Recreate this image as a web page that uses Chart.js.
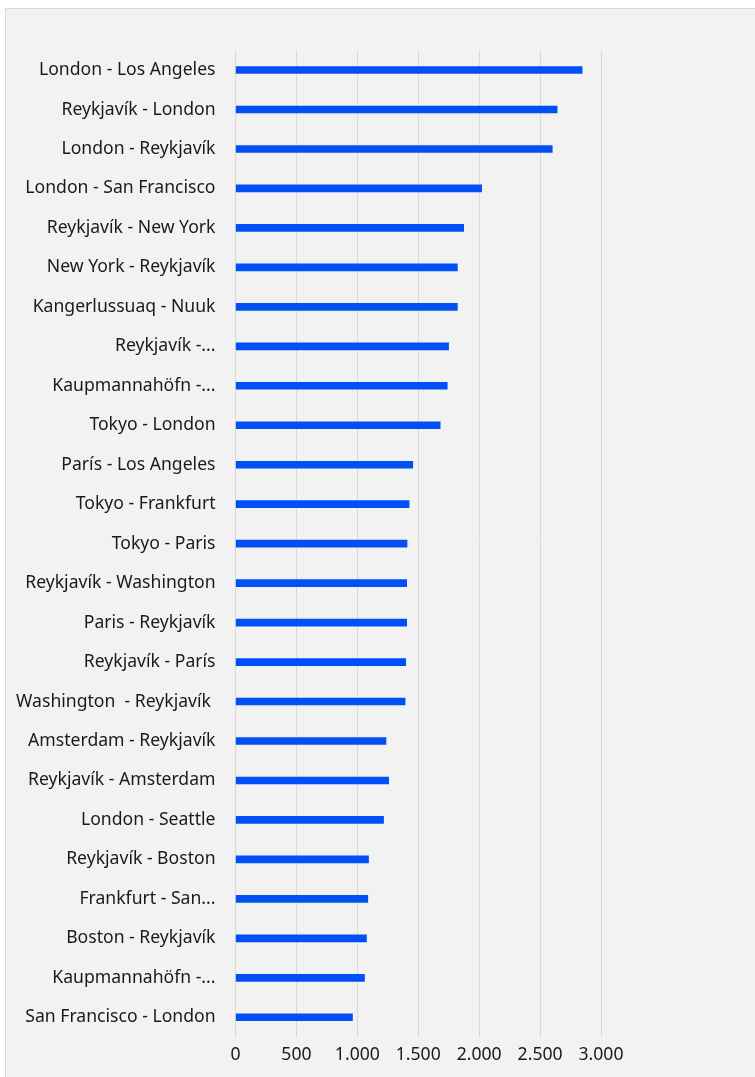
<!DOCTYPE html>
<html><head><meta charset="utf-8">
<script src="https://cdn.jsdelivr.net/npm/chart.js@4.4.1/dist/chart.umd.min.js"></script>
<style>
html,body{margin:0;padding:0;background:#fff;width:755px;height:1077px;overflow:hidden}
#box{position:absolute;left:5px;top:8px;width:760px;height:1080px;background:#f2f2f2;border:1px solid #d9d9d9;}
#c{display:block}
</style></head><body>
<div id="box"><canvas id="c" width="760" height="1080"></canvas></div>
<script>
const routes = [
  "London - Los Angeles","Reykjavík - London","London - Reykjavík","London - San Francisco",
  "Reykjavík - New York","New York - Reykjavík","Kangerlussuaq - Nuuk","Reykjavík -...",
  "Kaupmannahöfn -...","Tokyo - London","París - Los Angeles","Tokyo - Frankfurt",
  "Tokyo - Paris","Reykjavík - Washington","Paris - Reykjavík","Reykjavík - París",
  "Washington  - Reykjavík ","Amsterdam - Reykjavík","Reykjavík - Amsterdam","London - Seattle",
  "Reykjavík - Boston","Frankfurt - San...","Boston - Reykjavík","Kaupmannahöfn -...",
  "San Francisco - London"
];
const values = [
  2845,2640,2600,2020,
  1873,1821,1821,1749,
  1738,1680,1455,1425,
  1408,1405,1405,1397,
  1392,1235,1257,1215,
  1092,1086,1075,1059,
  960
];
const xTicks = [0,500,1000,1500,2000,2500,3000];
const xTickLabels = ["0","500","1.000","1.500","2.000","2.500","3.000"];

const FONT = {family:"'Noto Sans', sans-serif", size:17.6};
new Chart(document.getElementById('c'), {
  type:'bar',
  data:{labels:routes, datasets:[{data:values, backgroundColor:'#0050F5', borderWidth:0, barThickness:7}]},
  options:{
    indexAxis:'y', responsive:false, animation:false,
    layout:{padding:{top:41.3, right:165, bottom:12, left:0}},
    plugins:{legend:{display:false}, tooltip:{enabled:false}},
    scales:{
      x:{min:0,max:3000,
        afterBuildTicks:(s)=>{s.ticks = xTicks.map(v=>({value:v}));},
        ticks:{color:'#1a1a1a', font:FONT, padding:7, maxRotation:0,
          callback:(v)=>xTickLabels[xTicks.indexOf(v)]},
        grid:{color:'#d9d9d9', lineWidth:1, drawTicks:false},
        border:{display:false},
        afterFit:(s)=>{s.height=40;}
      },
      y:{
        ticks:{color:'#1a1a1a', font:FONT, padding:20, autoSkip:false},
        grid:{display:false, drawTicks:false},
        border:{display:false},
        afterFit:(s)=>{s.width=229.5;}
      }
    }
  }
});
</script></body></html>
